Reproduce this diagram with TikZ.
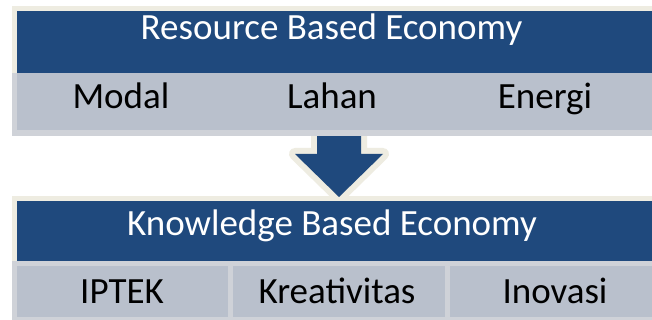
\documentclass[tikz,border=0pt]{standalone}
\usepackage{fontspec}
\setmainfont{Carlito}
\definecolor{navy}{HTML}{1F497D}
\definecolor{cellgray}{HTML}{B9C0CC}
\definecolor{framegray}{HTML}{CFD2D8}
\definecolor{cream}{HTML}{EEECE1}
\begin{document}
\begin{tikzpicture}[x=1pt,y=1pt,
  headtext/.style={text=white,font=\fontsize{37}{40}\selectfont,anchor=base,inner sep=0pt},
  itemtext/.style={text=black,font=\fontsize{37}{40}\selectfont,anchor=base,inner sep=0pt}]
\useasboundingbox (0,0) rectangle (652,320);
\fill[white] (0,0) rectangle (652,320);
% bottom block frame
\fill[cream] (12,59) rectangle (652,124);
% arrow
\draw[cream, line width=12pt, line join=round]
  (317,190) -- (317,166) -- (295,166) -- (339,123) -- (383,166) -- (361,166) -- (361,190) -- cycle;
\fill[navy]
  (317,190) -- (317,166) -- (295,166) -- (339,123) -- (383,166) -- (361,166) -- (361,190) -- cycle;
% bottom block
\fill[navy] (17,59) rectangle (652,119);
\fill[framegray] (12,0) rectangle (652,59);
\fill[cellgray] (17,3) rectangle (228,54);
\fill[cellgray] (233,3) rectangle (445,54);
\fill[cellgray] (450,3) rectangle (652,54);
% top block
\fill[cream] (12,247) rectangle (652,314);
\fill[navy] (17,247) rectangle (652,309);
\fill[framegray] (12,184) rectangle (652,247);
\fill[cellgray] (17,190) rectangle (652,247);
% texts
\node[headtext] (rbe) at (331.5,280) {Resource Based Economy};
\node[itemtext] (modal) at (121,211) {Modal};
\node[itemtext] (lahan) at (332,211) {Lahan};
\node[itemtext] (energi) at (545,211) {Energi};
\node[headtext] (kbe) at (332,84) {Knowledge Based Economy};
\node[itemtext] (iptek) at (122,16) {IPTEK};
\node[itemtext] (kreat) at (337,16) {Kreativitas};
\node[itemtext] (inov) at (555,16) {Inovasi};
\end{tikzpicture}
\end{document}
